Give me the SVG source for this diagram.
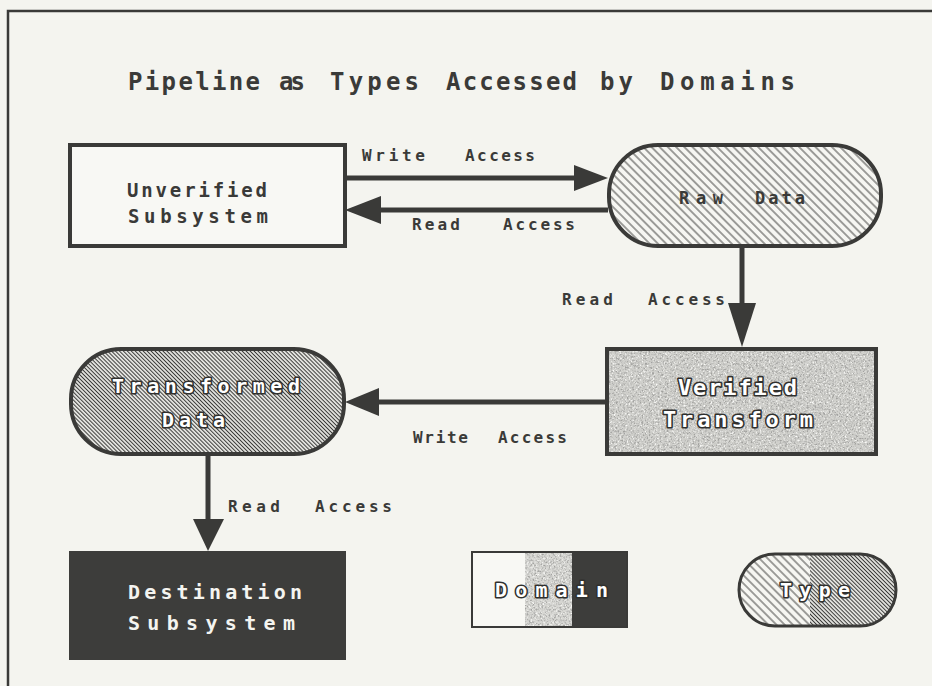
<svg xmlns="http://www.w3.org/2000/svg" width="932" height="686" viewBox="0 0 932 686">
  <style>
    .edge { stroke: #3a3a38; stroke-width: 5; fill: none; }
    .head { fill: #3a3a38; }
    .frame { stroke: #3a3a38; stroke-width: 2.5; fill: none; }
    .lbl { font-family: "DejaVu Sans Mono", "Liberation Mono", monospace; font-weight: bold; fill: #3a3a38; }
    .title { font-size: 24px; }
    .edgelbl { font-size: 16px; }
    .node { font-size: 19px; }
    .outline { font-family: "DejaVu Sans Mono", "Liberation Mono", monospace; font-weight: bold; fill: #ffffff; stroke: #30302e; stroke-width: 3.2; paint-order: stroke; stroke-linejoin: round; }
    .white { font-family: "DejaVu Sans Mono", "Liberation Mono", monospace; font-weight: bold; fill: #f4f4f0; font-size: 20px; }
    .border { stroke: #3a3a38; stroke-width: 4; }
  </style>
  <defs>
    <!-- sparse diagonal hatching for type shapes -->
    <pattern id="hatch" patternUnits="userSpaceOnUse" width="5.8" height="5.8" patternTransform="rotate(-45)">
      <rect width="5.8" height="5.8" fill="#f6f6f2"/>
      <line x1="2.9" y1="0" x2="2.9" y2="5.8" stroke="#3a3a38" stroke-width="0.95"/>
    </pattern>
    <!-- dense diagonal hatching -->
    <pattern id="hatchDense" patternUnits="userSpaceOnUse" width="2.8" height="2.8" patternTransform="rotate(-45)">
      <rect width="2.8" height="2.8" fill="#f6f6f2"/>
      <line x1="1.4" y1="0" x2="1.4" y2="2.8" stroke="#3a3a38" stroke-width="1.15"/>
    </pattern>
    <!-- grey speckle texture for the verified domain -->
    <filter id="speckle" x="0" y="0" width="100%" height="100%">
      <feTurbulence type="fractalNoise" baseFrequency="0.55" numOctaves="3" seed="7" result="noise"/>
      <feColorMatrix in="noise" type="matrix" values="0 0 0 0 0.36  0 0 0 0 0.36  0 0 0 0 0.35  3.4 0 0 0 -1.6" result="dark"/>
      <feColorMatrix in="noise" type="matrix" values="0 0 0 0 0.97  0 0 0 0 0.97  0 0 0 0 0.95  0 -3.2 0 0 1.55" result="light"/>
      <feComposite in="dark" in2="SourceGraphic" operator="in" result="darkIn"/>
      <feComposite in="light" in2="SourceGraphic" operator="in" result="lightIn"/>
      <feMerge>
        <feMergeNode in="SourceGraphic"/>
        <feMergeNode in="lightIn"/>
        <feMergeNode in="darkIn"/>
      </feMerge>
    </filter>
  </defs>

  <!-- page background and frame -->
  <rect width="932" height="686" fill="#f4f4ef"/>
  <polyline class="frame" points="8,686 8,11 932,11"/>

  <!-- title -->
  <text class="lbl title" y="90">
    <tspan x="128" textLength="132" lengthAdjust="spacing">Pipeline</tspan>
    <tspan x="279" textLength="26" lengthAdjust="spacing">as</tspan>
    <tspan x="330" textLength="89" lengthAdjust="spacing">Types</tspan>
    <tspan x="446" textLength="131" lengthAdjust="spacing">Accessed</tspan>
    <tspan x="600" textLength="33" lengthAdjust="spacing">by</tspan>
    <tspan x="660" textLength="135" lengthAdjust="spacing">Domains</tspan>
  </text>

  <!-- connectors -->
  <g id="connectors">
    <!-- Unverified -> Raw Data (write) -->
    <line class="edge" x1="345" y1="178" x2="578" y2="178"/>
    <polygon class="head" points="574,165 608,178 574,191"/>
    <!-- Raw Data -> Unverified (read) -->
    <line class="edge" x1="608" y1="210" x2="378" y2="210"/>
    <polygon class="head" points="381,196 345,210 381,224"/>
    <!-- Raw Data -> Verified Transform (read) -->
    <line class="edge" x1="742" y1="247" x2="742" y2="306"/>
    <polygon class="head" points="728,303 756,303 742,347"/>
    <!-- Verified Transform -> Transformed Data (write) -->
    <line class="edge" x1="605" y1="402" x2="376" y2="402"/>
    <polygon class="head" points="379,388 345,402 379,416"/>
    <!-- Transformed Data -> Destination (read) -->
    <line class="edge" x1="208" y1="455" x2="208" y2="522"/>
    <polygon class="head" points="193,519 224,519 208,551"/>

    <text class="lbl edgelbl" y="161">
      <tspan x="362" textLength="63" lengthAdjust="spacing">Write</tspan>
      <tspan x="465" textLength="70" lengthAdjust="spacing">Access</tspan>
    </text>
    <text class="lbl edgelbl" y="230">
      <tspan x="412" textLength="48" lengthAdjust="spacing">Read</tspan>
      <tspan x="503" textLength="72" lengthAdjust="spacing">Access</tspan>
    </text>
    <text class="lbl edgelbl" y="305">
      <tspan x="562" textLength="51" lengthAdjust="spacing">Read</tspan>
      <tspan x="648" textLength="77" lengthAdjust="spacing">Access</tspan>
    </text>
    <text class="lbl edgelbl" y="443">
      <tspan x="413" textLength="55" lengthAdjust="spacing">Write</tspan>
      <tspan x="498" textLength="69" lengthAdjust="spacing">Access</tspan>
    </text>
    <text class="lbl edgelbl" y="512">
      <tspan x="228" textLength="52" lengthAdjust="spacing">Read</tspan>
      <tspan x="315" textLength="77" lengthAdjust="spacing">Access</tspan>
    </text>
  </g>

  <!-- unverified subsystem (plain domain) -->
  <g id="unverified-subsystem">
    <rect class="border" x="70" y="145" width="275" height="101" fill="#f8f8f4"/>
    <text class="lbl node" x="127" y="197" textLength="140" lengthAdjust="spacing">Unverified</text>
    <text class="lbl node" x="128" y="223" textLength="140" lengthAdjust="spacing">Subsystem</text>
  </g>

  <!-- raw data (type) -->
  <g id="raw-data">
    <rect class="border" x="609" y="145" width="272" height="101" rx="49" fill="url(#hatch)"/>
    <text class="lbl" font-size="17" y="204">
      <tspan x="679" textLength="44" lengthAdjust="spacing">Raw</tspan>
      <tspan x="755" textLength="50" lengthAdjust="spacing">Data</tspan>
    </text>
  </g>

  <!-- verified transform (trusted domain) -->
  <g id="verified-transform">
    <rect x="607" y="349" width="269" height="105" fill="#cfcfcb" filter="url(#speckle)"/>
    <rect class="border" x="607" y="349" width="269" height="105" fill="none"/>
    <text class="outline" font-size="22" x="678" y="395" textLength="119" lengthAdjust="spacing">Verified</text>
    <text class="outline" font-size="22" x="663" y="427" textLength="150" lengthAdjust="spacing">Transform</text>
  </g>

  <!-- transformed data (type) -->
  <g id="transformed-data">
    <rect class="border" x="71" y="349" width="273" height="105" rx="50" fill="url(#hatchDense)"/>
    <text class="outline" font-size="20" x="112" y="393" textLength="188" lengthAdjust="spacing">Transformed</text>
    <text class="outline" font-size="20" x="162" y="427" textLength="63" lengthAdjust="spacing">Data</text>
  </g>

  <!-- destination subsystem (dark domain) -->
  <g id="destination-subsystem">
    <rect x="69" y="551" width="277" height="109" fill="#3d3d3b"/>
    <text class="white" x="128" y="599" textLength="174" lengthAdjust="spacing">Destination</text>
    <text class="white" x="128" y="630" textLength="167" lengthAdjust="spacing">Subsystem</text>
  </g>

  <!-- legend: domain -->
  <g id="legend-domain">
    <rect x="472" y="552" width="53" height="75" fill="#f8f8f4"/>
    <rect x="525" y="552" width="47" height="75" fill="#d6d6d2" filter="url(#speckle)"/>
    <rect x="572" y="552" width="55" height="75" fill="#3d3d3b"/>
    <rect x="472" y="552" width="155" height="75" fill="none" stroke="#3a3a38" stroke-width="2"/>
    <text class="outline" font-size="20" x="495" y="597" textLength="113" lengthAdjust="spacing">Domain</text>
  </g>

  <!-- legend: type -->
  <g id="legend-type">
    <clipPath id="typeClip">
      <rect x="738" y="553" width="159" height="74" rx="37"/>
    </clipPath>
    <g clip-path="url(#typeClip)">
      <rect x="738" y="553" width="72" height="74" fill="url(#hatch)"/>
      <rect x="810" y="553" width="87" height="74" fill="url(#hatchDense)"/>
    </g>
    <rect x="739" y="554" width="157" height="72" rx="36" fill="none" stroke="#3a3a38" stroke-width="3"/>
    <text class="outline" font-size="20" x="780" y="597" textLength="70" lengthAdjust="spacing">Type</text>
  </g>
</svg>
